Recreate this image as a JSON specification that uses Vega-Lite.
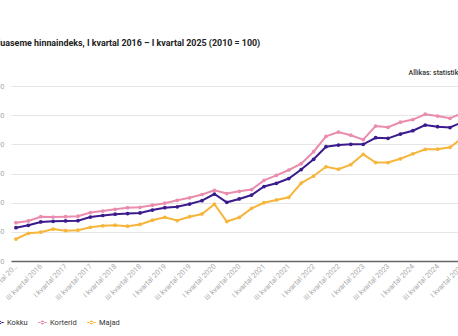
{
  "$schema": "https://vega.github.io/schema/vega-lite/v6.json",
  "width": 447,
  "height": 175,
  "autosize": {"type": "none"},
  "padding": {"left": 11, "top": 86, "right": 0, "bottom": 75},
  "background": "white",
  "config": {
    "font": "Roboto",
    "view": {"stroke": null}
  },
  "title": {
    "text": "Eluaseme hinnaindeks, I kvartal 2016 – I kvartal 2025 (2010 = 100)",
    "anchor": "start",
    "frame": "group",
    "dx": -18,
    "offset": 20,
    "fontSize": 8.9,
    "fontWeight": "bold",
    "color": "#222222",
    "font": "Roboto"
  },
  "data": {
    "values": [
      {"q": "I kvartal 2016", "Kokku": 157.1, "Korterid": 165.6, "Majad": 137.7},
      {"q": "II kvartal 2016", "Kokku": 161.2, "Korterid": 168.6, "Majad": 147.5},
      {"q": "III kvartal 2016", "Kokku": 166.9, "Korterid": 175.9, "Majad": 149.4},
      {"q": "IV kvartal 2016", "Kokku": 168.0, "Korterid": 175.4, "Majad": 154.8},
      {"q": "I kvartal 2017", "Kokku": 168.6, "Korterid": 175.9, "Majad": 151.9},
      {"q": "II kvartal 2017", "Kokku": 169.1, "Korterid": 176.8, "Majad": 152.8},
      {"q": "III kvartal 2017", "Kokku": 175.4, "Korterid": 183.1, "Majad": 157.8},
      {"q": "IV kvartal 2017", "Kokku": 178.0, "Korterid": 185.7, "Majad": 160.3},
      {"q": "I kvartal 2018", "Kokku": 180.2, "Korterid": 188.6, "Majad": 161.4},
      {"q": "II kvartal 2018", "Kokku": 181.4, "Korterid": 191.4, "Majad": 159.6},
      {"q": "III kvartal 2018", "Kokku": 182.3, "Korterid": 192.0, "Majad": 162.6},
      {"q": "IV kvartal 2018", "Kokku": 187.4, "Korterid": 195.6, "Majad": 169.9},
      {"q": "I kvartal 2019", "Kokku": 191.4, "Korterid": 199.1, "Majad": 174.9},
      {"q": "II kvartal 2019", "Kokku": 192.9, "Korterid": 204.0, "Majad": 169.4},
      {"q": "III kvartal 2019", "Kokku": 197.7, "Korterid": 208.3, "Majad": 175.9},
      {"q": "IV kvartal 2019", "Kokku": 203.4, "Korterid": 214.0, "Majad": 180.6},
      {"q": "I kvartal 2020", "Kokku": 214.8, "Korterid": 221.2, "Majad": 197.4},
      {"q": "II kvartal 2020", "Kokku": 200.6, "Korterid": 215.7, "Majad": 167.7},
      {"q": "III kvartal 2020", "Kokku": 206.3, "Korterid": 219.5, "Majad": 174.6},
      {"q": "IV kvartal 2020", "Kokku": 213.1, "Korterid": 222.4, "Majad": 190.3},
      {"q": "I kvartal 2021", "Kokku": 227.7, "Korterid": 238.3, "Majad": 199.9},
      {"q": "II kvartal 2021", "Kokku": 233.2, "Korterid": 246.9, "Majad": 204.6},
      {"q": "III kvartal 2021", "Kokku": 241.4, "Korterid": 256.0, "Majad": 209.2},
      {"q": "IV kvartal 2021", "Kokku": 256.8, "Korterid": 266.9, "Majad": 233.7},
      {"q": "I kvartal 2022", "Kokku": 274.3, "Korterid": 287.3, "Majad": 245.7},
      {"q": "II kvartal 2022", "Kokku": 295.9, "Korterid": 313.7, "Majad": 261.5},
      {"q": "III kvartal 2022", "Kokku": 298.8, "Korterid": 321.1, "Majad": 257.5},
      {"q": "IV kvartal 2022", "Kokku": 300.0, "Korterid": 315.6, "Majad": 265.2},
      {"q": "I kvartal 2023", "Kokku": 300.0, "Korterid": 308.1, "Majad": 282.9},
      {"q": "II kvartal 2023", "Kokku": 311.3, "Korterid": 331.4, "Majad": 268.7},
      {"q": "III kvartal 2023", "Kokku": 310.3, "Korterid": 329.2, "Majad": 268.8},
      {"q": "IV kvartal 2023", "Kokku": 317.7, "Korterid": 337.9, "Majad": 275.2},
      {"q": "I kvartal 2024", "Kokku": 323.3, "Korterid": 342.4, "Majad": 283.7},
      {"q": "II kvartal 2024", "Kokku": 333.1, "Korterid": 351.6, "Majad": 291.5},
      {"q": "III kvartal 2024", "Kokku": 330.2, "Korterid": 348.5, "Majad": 291.6},
      {"q": "IV kvartal 2024", "Kokku": 328.8, "Korterid": 344.6, "Majad": 294.9},
      {"q": "I kvartal 2025", "Kokku": 338.2, "Korterid": 353.7, "Majad": 310.8}
    ]
  },
  "transform": [
    {"fold": ["Kokku", "Korterid", "Majad"], "as": ["seeria", "indeks"]}
  ],
  "encoding": {
    "x": {
      "field": "q",
      "type": "ordinal",
      "sort": null,
      "scale": {"type": "point", "range": [0, 456.4], "padding": 0.4},
      "axis": {
        "title": null,
        "values": ["I kvartal 2016", "III kvartal 2016", "I kvartal 2017", "III kvartal 2017", "I kvartal 2018", "III kvartal 2018", "I kvartal 2019", "III kvartal 2019", "I kvartal 2020", "III kvartal 2020", "I kvartal 2021", "III kvartal 2021", "I kvartal 2022", "III kvartal 2022", "I kvartal 2023", "III kvartal 2023", "I kvartal 2024", "III kvartal 2024", "I kvartal 2025"],
        "labelExpr": "datum.value == 'I kvartal 2016' ? 'I kvartal 20…' : datum.label",
        "labelAngle": -45,
        "labelAlign": "right",
        "labelBaseline": "middle",
        "labelFontSize": 7.3,
        "labelColor": "#aaaaaa",
        "labelPadding": 4,
        "ticks": false,
        "domain": true,
        "domainColor": "#666666",
        "domainWidth": 1.5,
        "grid": false,
        "labelOverlap": false
      }
    },
    "y": {
      "field": "indeks",
      "type": "quantitative",
      "scale": {"domain": [100, 400], "nice": false, "zero": false},
      "axis": {
        "values": [100, 150, 200, 250, 300, 350, 400],
        "title": "Allikas: statistikaamet",
        "titleAngle": 0,
        "titleAlign": "left",
        "titleBaseline": "middle",
        "titleX": 397,
        "titleY": -14,
        "titleFontSize": 7,
        "titleFontWeight": 500,
        "titleColor": "#333333",
        "labelFontSize": 7,
        "labelColor": "#aaaaaa",
        "labelPadding": 7,
        "ticks": false,
        "domain": false,
        "gridColor": "#e6e6e6",
        "gridWidth": 1
      }
    },
    "color": {
      "field": "seeria",
      "type": "nominal",
      "scale": {"domain": ["Kokku", "Korterid", "Majad"], "range": ["#3a1a8c", "#e98cad", "#f7b53b"]},
      "legend": {
        "title": null,
        "orient": "none",
        "direction": "horizontal",
        "legendX": -16,
        "legendY": 232,
        "symbolType": "M-1,-0.12H1V0.12H-1Z M-0.45,0A0.45,0.45 0 1 0 0.45,0A0.45,0.45 0 1 0 -0.45,0Z",
        "symbolSize": 72,
        "symbolStrokeWidth": 0,
        "labelFontSize": 7.5,
        "labelColor": "#333333",
        "labelOffset": 3,
        "columnPadding": 10
      }
    }
  },
  "layer": [
    {"mark": {"type": "line", "strokeWidth": 2}},
    {"mark": {"type": "point", "filled": true, "size": 14, "opacity": 1}}
  ]
}
